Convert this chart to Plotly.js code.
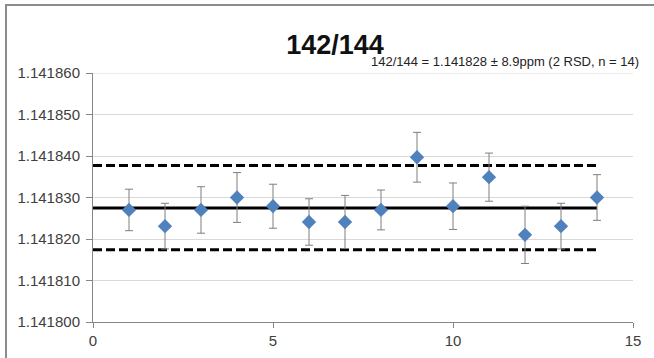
<!DOCTYPE html>
<html>
<head>
<meta charset="utf-8">
<script src="https://cdn.plot.ly/plotly-3.0.1.min.js"></script>
<style>
  html, body { margin: 0; padding: 0; background: #ffffff; }
  #wrap { position: relative; width: 654px; height: 358px; overflow: hidden; }
  #frame { position: absolute; left: 5px; top: 4px; width: 700px; height: 400px;
           border-left: 2px solid #8c8c8c; border-top: 2px solid #8c8c8c; }
  #chart { position: absolute; left: 0; top: 0; width: 654px; height: 358px; }
</style>
</head>
<body>
<div id="wrap">
  <div id="frame"></div>
  <div id="chart"></div>
</div>
<script>
// Measurement index
const runs = [1, 2, 3, 4, 5, 6, 7, 8, 9, 10, 11, 12, 13, 14];
// 142/144 ratio per run
const ratios = [1.1418270, 1.1418231, 1.1418270, 1.1418300, 1.1418279, 1.1418241, 1.1418241,
                1.1418270, 1.1418397, 1.1418279, 1.1418349, 1.1418210, 1.1418231, 1.1418300];
// Error bar half-widths
const errors = [0.0000050, 0.0000055, 0.0000056, 0.0000060, 0.0000053, 0.0000056, 0.0000064,
                0.0000048, 0.0000060, 0.0000056, 0.0000058, 0.0000069, 0.0000055, 0.0000055];
// Reference lines (mean and ±2 RSD band), spanning x 0..14
const lineX = [0, 14];
const meanValue = [1.1418275, 1.1418275];
const upperValue = [1.1418377, 1.1418377];
const lowerValue = [1.1418174, 1.1418174];
// Axis ticks
const yTicks = [1.141800, 1.141810, 1.141820, 1.141830, 1.141840, 1.141850, 1.141860];
const yTickText = ['1.141800', '1.141810', '1.141820', '1.141830', '1.141840', '1.141850', '1.141860'];
const xTicks = [0, 5, 10, 15];
const titleText = '142/144';
const subtitleText = '142/144 = 1.141828 ± 8.9ppm (2 RSD, n = 14)';

const FONT = 'Liberation Sans, Arial, sans-serif';

const traces = [
  { x: lineX, y: upperValue, mode: 'lines', line: { color: '#000000', width: 3, dash: '9px,4px' }, hoverinfo: 'skip', showlegend: false },
  { x: lineX, y: lowerValue, mode: 'lines', line: { color: '#000000', width: 3, dash: '9px,4px' }, hoverinfo: 'skip', showlegend: false },
  { x: lineX, y: meanValue, mode: 'lines', line: { color: '#000000', width: 3 }, hoverinfo: 'skip', showlegend: false },
  {
    x: runs, y: ratios, mode: 'markers', type: 'scatter', showlegend: false,
    marker: { symbol: 'diamond', size: 11, color: '#4f81bd' },
    error_y: { type: 'data', array: errors, visible: true, color: '#7f7f7f', thickness: 1, width: 4 }
  }
];

const topTick = yTicks[yTicks.length - 1];

const layout = {
  width: 654, height: 358,
  margin: { l: 93, r: 21, t: 73, b: 36, pad: 0 },
  paper_bgcolor: 'rgba(0,0,0,0)',
  plot_bgcolor: 'rgba(0,0,0,0)',
  showlegend: false,
  font: { family: FONT, color: '#404040' },
  title: {
    text: '<b>' + titleText + '</b>',
    font: { family: FONT, size: 27, color: '#111111' },
    x: 335 / 654, xanchor: 'center', xref: 'container',
    y: 1 - 45 / 358, yanchor: 'middle', yref: 'container'
  },
  xaxis: {
    range: [0, 15], tickvals: xTicks, ticktext: xTicks.map(String),
    showgrid: false, zeroline: false,
    showline: true, linecolor: '#868686', linewidth: 1,
    ticks: 'outside', ticklen: 5, tickcolor: '#868686', tickwidth: 1,
    tickfont: { family: FONT, size: 15, color: '#404040' }
  },
  yaxis: {
    range: [1.141800, 1.141860], tickvals: yTicks, ticktext: yTickText,
    showgrid: true, gridcolor: '#d9d9d9', gridwidth: 1, zeroline: false,
    showline: true, linecolor: '#868686', linewidth: 1,
    ticks: 'outside', ticklen: 6, tickcolor: '#868686', tickwidth: 1,
    ticklabelstandoff: 3,
    tickfont: { family: FONT, size: 15, color: '#404040' }
  },
  shapes: [{
    type: 'line', xref: 'paper', yref: 'y', x0: 0, x1: 1, y0: topTick, y1: topTick,
    line: { color: '#d9d9d9', width: 1 }, layer: 'below'
  }],
  annotations: [{
    text: subtitleText, showarrow: false,
    xref: 'paper', yref: 'paper', x: (641 - 93) / 540, y: (322 - 62) / 249,
    xanchor: 'right', yanchor: 'middle',
    font: { family: FONT, size: 13, color: '#222222' }
  }]
};

Plotly.newPlot('chart', traces, layout, { displayModeBar: false, staticPlot: true });
</script>
</body>
</html>
